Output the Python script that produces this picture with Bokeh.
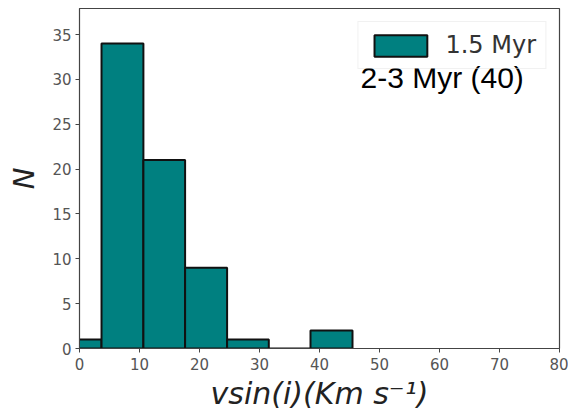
from bokeh.plotting import figure
from bokeh.models import Legend, LegendItem, Label, FixedTicker, Range1d
from bokeh.embed import file_html
from bokeh.resources import INLINE

# histogram data
bin_left = [-3.3, 3.67, 10.65, 17.6, 24.6, 31.55, 38.5]
bin_right = [3.67, 10.65, 17.6, 24.6, 31.55, 38.5, 45.5]
counts = [1, 34, 21, 9, 1, 0, 2]
x_ticks = [0, 10, 20, 30, 40, 50, 60, 70, 80]
y_ticks = [0, 5, 10, 15, 20, 25, 30, 35]
series_label = "1.5 Myr"
note_label = "2-3 Myr (40)"

p = figure(width=568, height=416, output_backend="svg", toolbar_location=None,
           x_range=Range1d(0, 80), y_range=Range1d(0, 37.9),
           min_border_left=79, min_border_right=9, min_border_top=8, min_border_bottom=68)
p.grid.visible = False
p.outline_line_color = "#444444"
p.outline_line_width = 1.2
p.background_fill_color = "white"
p.border_fill_color = "white"

r = p.quad(left=bin_left, right=bin_right, bottom=0, top=counts,
           fill_color="#008080", line_color="#111111", line_width=2)

for ax in (p.xaxis[0], p.yaxis[0]):
    ax.axis_line_color = "#444444"
    ax.major_tick_line_color = "#444444"
    ax.major_tick_out = 4
    ax.major_tick_in = 0
    ax.minor_tick_line_color = None
    ax.major_label_text_font = "DejaVu Sans"
    ax.major_label_text_font_size = "15px"
    ax.major_label_text_color = "#555555"
    ax.axis_label_text_font = "DejaVu Sans"
    ax.axis_label_text_font_style = "italic"
    ax.axis_label_text_color = "#222222"

p.xaxis[0].ticker = FixedTicker(ticks=x_ticks)
p.yaxis[0].ticker = FixedTicker(ticks=y_ticks)
p.xaxis[0].axis_label = "vsin(i)(Km s\u207b\u00b9)"
p.xaxis[0].axis_label_text_font_size = "30px"
p.xaxis[0].axis_label_standoff = 3
p.xaxis[0].major_label_standoff = 5
p.yaxis[0].axis_label = "N"
p.yaxis[0].axis_label_text_font_size = "29px"
p.yaxis[0].axis_label_standoff = 8
p.yaxis[0].major_label_standoff = 4

legend = Legend(items=[LegendItem(label=series_label, renderers=[r])],
                location="top_right", margin=13,
                glyph_width=66, glyph_height=27, label_standoff=12,
                padding=9, spacing=0,
                label_text_font="DejaVu Sans", label_text_font_size="24px",
                label_text_color="#333333",
                border_line_color="#e4e4e4", border_line_width=1,
                background_fill_color="white", background_fill_alpha=0.0)
p.add_layout(legend)

note = Label(x=281, y=271, x_units="screen", y_units="screen", text=note_label,
             text_font="Liberation Sans", text_font_size="30px", text_color="black",
             text_baseline="alphabetic", level="overlay")
p.add_layout(note)

open("out.html", "w").write(file_html(p, INLINE))
